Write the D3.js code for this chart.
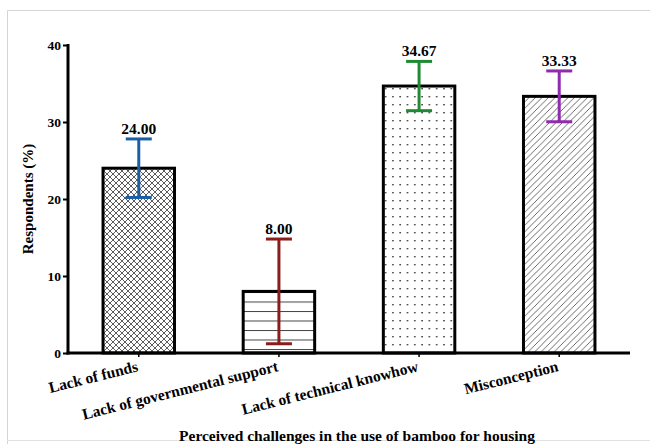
<!DOCTYPE html>
<html>
<head>
<meta charset="utf-8">
<script src="https://cdn.jsdelivr.net/npm/d3@7"></script>
<style>
  body { margin: 0; background: #fff; }
  svg { display: block; }
</style>
</head>
<body>
<div id="chart"></div>
<script>
(function () {

  const categories = ['Lack of funds', 'Lack of governmental support', 'Lack of technical knowhow', 'Misconception']
  const values = [24.00, 8.00, 34.67, 33.33]
  const errors = [3.8, 6.8, 3.2, 3.3]
  const valueLabels = ['24.00', '8.00', '34.67', '33.33']
  const yTicks = [0, 10, 20, 30, 40]
  const errColors = ['#1b5ea8', '#8b1c1c', '#1f8a33', '#8f2bad']
  const patterns = ['cross', 'hlines', 'dots', 'diag']

  const W = 650, H = 444
  const margin = { top: 45, right: 20, bottom: 91, left: 68 }
  const width = 630 - margin.left
  const height = H - margin.top - margin.bottom

  const root = d3.select('#chart').append('svg')
    .attr('width', W)
    .attr('height', H)

  // light frame round the figure
  root.append('path')
    .attr('d', 'M7.5,' + H + ' V10.5 H' + W)
    .attr('fill', 'none')
    .attr('stroke', '#d4d4d4')
    .attr('stroke-width', 1)
  root.append('line')
    .attr('x1', 7).attr('x2', W).attr('y1', 440.5).attr('y2', 440.5)
    .attr('stroke', '#e2e2e2')

  const defs = root.append('defs')

  // crosshatch
  const p1 = defs.append('pattern').attr('id', 'cross')
    .attr('patternUnits', 'userSpaceOnUse').attr('width', 6).attr('height', 6)
  p1.append('path').attr('d', 'M0,0 L6,6 M6,0 L0,6 M-1,5 L1,7 M5,-1 L7,1 M-1,1 L1,-1 M5,7 L7,5')
    .attr('stroke', '#333').attr('stroke-width', 0.8)

  // horizontal lines
  const p2 = defs.append('pattern').attr('id', 'hlines')
    .attr('patternUnits', 'userSpaceOnUse').attr('width', 10).attr('height', 9.5)
  p2.append('line').attr('x1', 0).attr('x2', 10).attr('y1', 0.5).attr('y2', 0.5)
    .attr('stroke', '#444').attr('stroke-width', 1)

  // dots
  const p3 = defs.append('pattern').attr('id', 'dots')
    .attr('patternUnits', 'userSpaceOnUse').attr('width', 7.3).attr('height', 8)
  p3.append('rect').attr('x', 3).attr('y', 3).attr('width', 1.4).attr('height', 1.4)
    .attr('fill', '#222')

  // diagonal hatch
  const p4 = defs.append('pattern').attr('id', 'diag')
    .attr('patternUnits', 'userSpaceOnUse').attr('width', 6.5).attr('height', 6.5)
  p4.append('path').attr('d', 'M0,6.5 L6.5,0 M-1,1 L1,-1 M5.5,7.5 L7.5,5.5')
    .attr('stroke', '#444').attr('stroke-width', 0.8)

  const svg = root.append('g')
    .attr('transform', 'translate(' + margin.left + ',' + margin.top + ')')

  const xPositionScale = d3.scaleBand()
    .domain(categories)
    .range([0, width])
    .paddingInner(0.49)
    .paddingOuter(0.25)

  const yPositionScale = d3.scaleLinear()
    .domain([0, 40])
    .range([height, 0])

  // bars
  svg.selectAll('.bar')
    .data(categories)
    .join('rect')
    .attr('class', 'bar')
    .attr('x', d => xPositionScale(d))
    .attr('y', (d, i) => yPositionScale(values[i]))
    .attr('width', xPositionScale.bandwidth())
    .attr('height', (d, i) => height - yPositionScale(values[i]))
    .attr('fill', (d, i) => 'url(#' + patterns[i] + ')')
    .attr('stroke', '#000')
    .attr('stroke-width', 3)

  // error bars
  const errG = svg.selectAll('.err')
    .data(categories)
    .join('g')
    .attr('class', 'err')
    .attr('stroke', (d, i) => errColors[i])
    .attr('stroke-width', 3)

  const cx = d => xPositionScale(d) + xPositionScale.bandwidth() / 2
  const capW = 13

  errG.append('line')
    .attr('x1', cx).attr('x2', cx)
    .attr('y1', (d, i) => yPositionScale(values[i] + errors[i]))
    .attr('y2', (d, i) => yPositionScale(values[i] - errors[i]))
  errG.append('line')
    .attr('x1', d => cx(d) - capW).attr('x2', d => cx(d) + capW)
    .attr('y1', (d, i) => yPositionScale(values[i] + errors[i]))
    .attr('y2', (d, i) => yPositionScale(values[i] + errors[i]))
  errG.append('line')
    .attr('x1', d => cx(d) - capW).attr('x2', d => cx(d) + capW)
    .attr('y1', (d, i) => yPositionScale(values[i] - errors[i]))
    .attr('y2', (d, i) => yPositionScale(values[i] - errors[i]))

  // value labels
  svg.selectAll('.vlabel')
    .data(categories)
    .join('text')
    .attr('class', 'vlabel')
    .attr('x', cx)
    .attr('y', (d, i) => yPositionScale(values[i] + errors[i]) - 5)
    .attr('text-anchor', 'middle')
    .attr('font-family', 'Liberation Serif')
    .attr('font-weight', 'bold')
    .attr('font-size', 15.5)
    .text((d, i) => valueLabels[i])

  // axes
  const yAxis = d3.axisLeft(yPositionScale).tickValues(yTicks).tickSize(5).tickSizeOuter(0)
  const yG = svg.append('g')
    .attr('class', 'axis y-axis')
    .call(yAxis)
  yG.select('.domain').attr('stroke-width', 3).attr('d', 'M0,' + (height + 1.5) + 'V-1')
  yG.selectAll('.tick line').attr('stroke-width', 2)
  yG.selectAll('.tick text')
    .attr('font-family', 'Liberation Serif')
    .attr('font-weight', 'bold')
    .attr('font-size', 13.5)
    .attr('fill', '#000')
    .attr('x', -7)

  const xAxis = d3.axisBottom(xPositionScale).tickSize(4).tickSizeOuter(0)
  const xG = svg.append('g')
    .attr('class', 'axis x-axis')
    .attr('transform', 'translate(0,' + height + ')')
    .call(xAxis)
  xG.select('.domain').attr('stroke-width', 3).attr('d', 'M-1.5,0H' + width)
  xG.selectAll('.tick line').attr('stroke-width', 1.5)
  xG.selectAll('.tick text')
    .attr('font-family', 'Liberation Serif')
    .attr('font-weight', 'bold')
    .attr('font-size', 15.5)
    .attr('fill', '#000')
    .attr('text-anchor', 'end')
    .attr('dy', 0)
    .attr('y', 0)
    .attr('transform', 'translate(0,18) rotate(-14)')

  // axis titles
  svg.append('text')
    .attr('transform', 'translate(-35,' + (height / 2) + ') rotate(-90)')
    .attr('text-anchor', 'middle')
    .attr('font-family', 'Liberation Serif')
    .attr('font-weight', 'bold')
    .attr('font-size', 15)
    .text('Respondents (%)')

  svg.append('text')
    .attr('x', 357 - margin.left)
    .attr('y', height + 88)
    .attr('text-anchor', 'middle')
    .attr('font-family', 'Liberation Serif')
    .attr('font-weight', 'bold')
    .attr('font-size', 15.5)
    .text('Perceived challenges in the use of bamboo for housing')

})();
</script>
</body>
</html>
